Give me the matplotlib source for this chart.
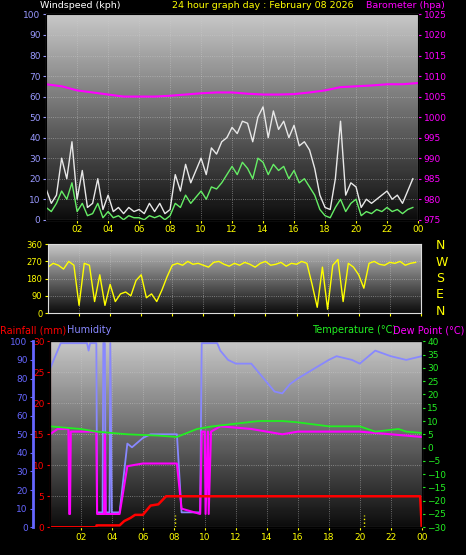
import matplotlib.pyplot as plt
import numpy as np

# wind, 20 min steps
wind_t = np.arange(72) / 3.0
gust = [15, 8, 12, 30, 20, 38, 10, 24, 6, 8, 20, 5, 12, 4, 6, 3, 6, 4,
        5, 3, 8, 4, 8, 3, 5, 22, 14, 27, 18, 24, 30, 22, 35, 32, 38, 40,
        45, 42, 48, 47, 38, 50, 55, 40, 53, 44, 48, 40, 46, 36, 38, 34, 25, 12,
        6, 5, 20, 48, 12, 18, 16, 6, 10, 8, 10, 12, 14, 10, 12, 8, 14, 20]
avg = [6, 4, 8, 14, 10, 18, 4, 8, 2, 3, 8, 1, 4, 1, 2, 0, 2, 1,
       1, 0, 2, 1, 2, 0, 2, 8, 6, 12, 8, 11, 14, 10, 16, 15, 18, 22,
       26, 22, 28, 25, 20, 30, 28, 22, 27, 24, 26, 20, 24, 18, 20, 16, 12, 5,
       2, 1, 6, 10, 4, 8, 10, 2, 4, 3, 5, 4, 6, 4, 5, 3, 5, 6]
direction = [240, 260, 250, 230, 270, 250, 40, 260, 250, 60, 200, 40, 150, 60, 100, 110, 90, 170,
             200, 80, 100, 60, 120, 190, 250, 260, 250, 270, 255, 260, 250, 240, 265, 270, 255, 245,
             260, 250, 265, 255, 240, 260, 270, 250, 255, 265, 245, 260, 255, 270, 260, 150, 30, 240,
             20, 250, 280, 60, 260, 240, 200, 130, 260, 270, 255, 250, 265, 260, 270, 250, 260, 265]

baro_t = np.arange(25)
baro = [1008, 1007.5, 1006.5, 1006, 1005.5, 1005, 1005, 1005, 1005.2, 1005.5, 1005.8, 1006,
        1006, 1005.7, 1005.5, 1005.5, 1005.6, 1006, 1006.5, 1007.3, 1007.5, 1007.7, 1008, 1008, 1008.3]

hum_t = [0, 0.7, 2.4, 2.5, 2.6, 3.0, 3.05, 3.4, 3.45, 3.55, 3.6, 3.85, 3.9, 4.0, 4.5, 5.0, 5.3, 6.0,
         6.5, 8.2, 8.5, 9.7, 9.8, 10.8, 11, 11.5, 12, 13, 13.5, 14, 14.5, 15, 15.5, 16, 17, 18,
         18.5, 19.5, 20, 21, 22, 23, 24]
hum = [85, 99, 99, 95, 99, 99, 8, 8, 99, 99, 8, 8, 99, 8, 8, 45, 43, 48,
       50, 50, 8, 8, 99, 99, 95, 90, 88, 88, 83, 78, 73, 72, 77, 80, 85, 90,
       92, 90, 88, 95, 92, 90, 92]
dew_t = [0, 0.5, 1.2, 1.25, 1.3, 1.35, 3.0, 3.05, 3.5, 3.55, 3.6, 4.5, 5.0, 6.0, 8.2, 8.5, 9.7,
         9.8, 10.0, 10.05, 10.2, 10.25, 10.4, 11, 13, 15, 16, 20, 24]
dew = [5, 7, 7, -25, -25, 6, 6, -25, -25, 5, -25, -25, -7, -6, -6, -23, -25,
       6, 6, -25, 6, -25, 6, 8, 7, 5, 6, 6, 4]
temp_t = [0, 2, 3, 5, 7, 8.2, 9.5, 10.5, 12, 13.5, 15, 16, 18, 20, 21, 22.5, 23, 24]
temp = [8, 7, 6, 5, 4.5, 4, 7, 8, 9, 10, 10, 9.5, 8, 8, 6, 7, 6, 5.5]
rain_t = [0, 3.0, 3.01, 4.5, 4.8, 5.2, 5.5, 6.0, 6.5, 7.0, 7.5, 23.9, 24]
rain = [0, 0, 0.3, 0.3, 1, 1.5, 2, 2, 3.5, 3.7, 5, 5, 0]

hours = list(range(2, 25, 2))
hour_labels = ["%02d" % (h % 24) for h in hours]

fig = plt.figure(figsize=(4.66, 5.55), dpi=100, facecolor="black")
grad = np.linspace(0.78, 0.05, 100).reshape(-1, 1)


def style(ax, ymin, ymax):
    ax.set_facecolor("black")
    ax.imshow(grad, extent=[0, 24, ymin, ymax], aspect="auto", cmap="gray",
              vmin=0, vmax=1, zorder=0)
    ax.set_xlim(0, 24)
    ax.set_ylim(ymin, ymax)
    ax.grid(True, color="#cccccc", linestyle=":", linewidth=0.6, alpha=0.6)
    ax.set_xticks(hours)
    ax.set_xticklabels(hour_labels, color="yellow", fontsize=6.5)
    ax.tick_params(colors="yellow", length=2, labelsize=6.5, pad=2)
    for s in ax.spines.values():
        s.set_color("#dddddd")


# panel 1: wind and barometer
ax1 = fig.add_axes([0.099, 0.604, 0.798, 0.370])
style(ax1, 0, 100)
ax1.plot(wind_t, gust, color="#e8e8e8", lw=1.0)
ax1.plot(wind_t, avg, color="#66ee66", lw=1.0)
ax1.set_yticks(range(0, 101, 10))
ax1.tick_params(axis="y", colors="#9999ff")
ax1b = ax1.twinx()
ax1b.set_ylim(975, 1025)
ax1b.plot(baro_t, baro, color="#ff00ff", lw=1.5)
ax1b.set_yticks(range(975, 1026, 5))
ax1b.tick_params(colors="#ff00ff", labelsize=6.5, length=2, pad=2)
fig.text(0.085, 0.999, "Windspeed (kph)", color="white", fontsize=6.8, va="top")
fig.text(0.37, 0.999, "24 hour graph day : February 08 2026", color="yellow", fontsize=6.8, va="top")
fig.text(0.785, 0.999, "Barometer (hpa)", color="#ff00ff", fontsize=6.8, va="top")

# panel 2: direction
ax2 = fig.add_axes([0.103, 0.436, 0.800, 0.124])
style(ax2, 0, 360)
ax2.plot(wind_t, direction, color="yellow", lw=1.0)
ax2.set_yticks([0, 90, 180, 270, 360])
ax2.tick_params(labelbottom=False, labelsize=6)
for i, c in enumerate("NWSEN"):
    fig.text(0.935, 0.557 - i * 0.0295, c, color="yellow", fontsize=9, va="center")

# panel 3: rain, humidity, temperature, dew point
ax3 = fig.add_axes([0.107, 0.050, 0.798, 0.335])
style(ax3, 0, 30)
ax3.set_yticks(range(0, 31, 5))
ax3.tick_params(axis="y", colors="red")
ax3.spines["left"].set_color("red")
ax3h = ax3.twinx()
ax3h.set_ylim(0, 100)
ax3h.spines["left"].set_position(("outward", 12))
ax3h.spines["left"].set_visible(True)
ax3h.spines["left"].set_color("#6666ff")
ax3h.spines["left"].set_linewidth(2)
ax3h.yaxis.set_label_position("left")
ax3h.yaxis.tick_left()
ax3h.set_yticks(range(0, 101, 10))
ax3h.tick_params(colors="#6666ff", labelsize=6.5, length=2, pad=2)
ax3h.plot(hum_t, hum, color="#8888ff", lw=1.3)
ax3t = ax3.twinx()
ax3t.set_ylim(-30, 40)
ax3t.set_yticks(range(-30, 41, 5))
ax3t.tick_params(colors="#22ee22", labelsize=6.5, length=2, pad=2)
ax3t.plot(dew_t, dew, color="#ff00ff", lw=1.5)
ax3t.plot(temp_t, temp, color="#22ee22", lw=1.3)
ax3r = ax3.twinx()
ax3r.set_ylim(0, 30)
ax3r.set_yticks([])
ax3r.plot(rain_t, rain, color="red", lw=1.8)
ax3r.vlines([8.1, 20.3], 0, 2, colors="yellow", linestyles=":", lw=1)
for a in (ax3h, ax3t, ax3r):
    a.set_xlim(0, 24)
fig.text(0.0, 0.405, "Rainfall (mm)", color="red", fontsize=7, va="center")
fig.text(0.143, 0.405, "Humidity", color="#8888ff", fontsize=7, va="center")
fig.text(0.67, 0.405, "Temperature (°C)", color="#22ee22", fontsize=7, va="center")
fig.text(0.843, 0.405, "Dew Point (°C)", color="#ff00ff", fontsize=7, va="center")

fig.savefig("out.png", dpi=100, facecolor="black")
